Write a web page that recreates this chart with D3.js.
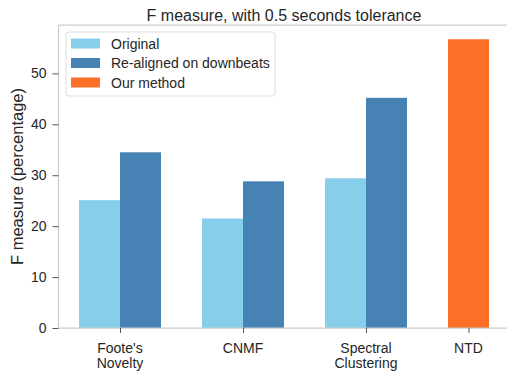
<!DOCTYPE html>
<html>
<head>
<meta charset="utf-8">
<script src="https://cdn.jsdelivr.net/npm/d3@7"></script>
<style>
  body { margin: 0; background: #fff; }
  text { font-family: "Liberation Sans", Arial, sans-serif; fill: #262626; }
</style>
</head>
<body>
<div id="chart"></div>
<script>
/* data */
const methods = ["Foote's\nNovelty", "CNMF", "Spectral\nClustering", "NTD"];
const original = [25.1, 21.5, 29.4];
const realigned = [34.5, 28.8, 45.2];
const ours = [56.7];
const series = ["Original", "Re-aligned on downbeats", "Our method"];
const colors = ["#87ceeb", "#4682b4", "#fd6f26"];
const yTicks = [0, 10, 20, 30, 40, 50];

const width = 507, height = 371;
const barW = 1 / 3;

const svg = d3.select("#chart").append("svg")
  .attr("width", width)
  .attr("height", height);

const x = d3.scaleLinear().domain([-0.5, 3 + 0.5 / 3]).range([58.5, 509.5]);
const y = d3.scaleLinear().domain([0, 59.5]).range([328, 25]);

// bars: original left of the group centre, re-aligned right of it
const bars = [];
original.forEach((v, i) => bars.push({ pos: i - barW / 2, v, c: colors[0] }));
realigned.forEach((v, i) => bars.push({ pos: i + barW / 2, v, c: colors[1] }));
ours.forEach((v, i) => bars.push({ pos: 3 + i - barW / 2, v, c: colors[2] }));

svg.selectAll("rect.bar")
  .data(bars)
  .join("rect")
  .attr("class", "bar")
  .attr("x", d => x(d.pos - barW / 2))
  .attr("width", d => x(d.pos + barW / 2) - x(d.pos - barW / 2))
  .attr("y", d => y(d.v))
  .attr("height", d => y(0) - y(d.v))
  .attr("fill", d => d.c);

// spines
const spine = "#cccccc";
svg.append("line")
  .attr("x1", x(-0.5)).attr("x2", x(-0.5))
  .attr("y1", y(0)).attr("y2", y(59.5))
  .attr("stroke", spine).attr("stroke-width", 1.25);
svg.append("line")
  .attr("x1", x(-0.5)).attr("x2", width)
  .attr("y1", y(0)).attr("y2", y(0))
  .attr("stroke", spine).attr("stroke-width", 1.25);
svg.append("line")
  .attr("x1", x(-0.5)).attr("x2", width)
  .attr("y1", y(59.5)).attr("y2", y(59.5))
  .attr("stroke", spine).attr("stroke-width", 1.25);

// y axis
const yAxis = svg.append("g")
  .attr("transform", `translate(${x(-0.5)},0)`)
  .call(d3.axisLeft(y).tickValues(yTicks).tickSize(6).tickPadding(6));
yAxis.select(".domain").remove();
yAxis.selectAll(".tick line").attr("stroke", "#555").attr("stroke-width", 1);
yAxis.selectAll(".tick text").style("font-size", "14px").attr("fill", "#262626")
  .style("font-family", "Liberation Sans, Arial, sans-serif");

// x axis
const xPos = [0, 1, 2, 3 - barW / 2];
const xAxis = svg.append("g")
  .attr("transform", `translate(0,${y(0)})`)
  .call(d3.axisBottom(x).tickValues(xPos).tickSize(5).tickFormat(""));
xAxis.select(".domain").remove();
xAxis.selectAll(".tick line").attr("stroke", "#555").attr("stroke-width", 1);

methods.forEach((m, i) => {
  const t = svg.append("text")
    .attr("x", x(xPos[i]))
    .attr("y", y(0) + 25)
    .attr("text-anchor", "middle")
    .style("font-size", "14px");
  m.split("\n").forEach((line, j) => {
    t.append("tspan").attr("x", x(xPos[i])).attr("dy", j === 0 ? 0 : 15).text(line);
  });
});

// title and y label
svg.append("text")
  .attr("x", (x(-0.5) + x(3 + 0.5 / 3)) / 2)
  .attr("y", 21)
  .attr("text-anchor", "middle")
  .style("font-size", "16px")
  .text("F measure, with 0.5 seconds tolerance");

svg.append("text")
  .attr("transform", `translate(23,${(y(0) + y(59.5)) / 2}) rotate(-90)`)
  .attr("text-anchor", "middle")
  .style("font-size", "16.5px")
  .text("F measure (percentage)");

// legend
const legend = svg.append("g").attr("transform", "translate(66,32)");
legend.append("rect")
  .attr("width", 209).attr("height", 64)
  .attr("rx", 3)
  .attr("fill", "#fff").attr("fill-opacity", 0.8)
  .attr("stroke", "#dddddd");
series.forEach((s, i) => {
  const row = legend.append("g").attr("transform", `translate(0,${11.5 + i * 19.5})`);
  row.append("rect")
    .attr("x", 5).attr("y", -5).attr("width", 29).attr("height", 10)
    .attr("fill", colors[i]);
  row.append("text")
    .attr("x", 45).attr("y", 5)
    .style("font-size", "14px")
    .text(s);
});
</script>
</body>
</html>
